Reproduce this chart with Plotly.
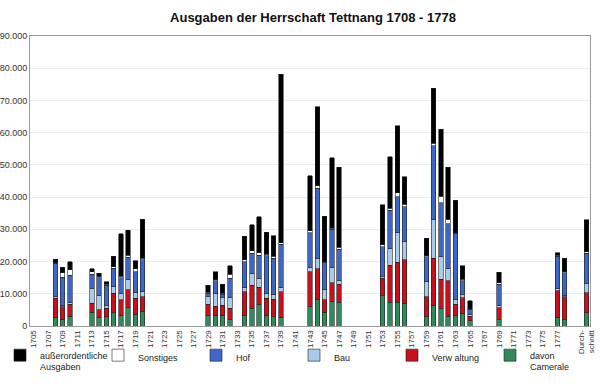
import plotly.graph_objects as go

# Categories: years 1705..1780 plus the average column
years = list(range(1705, 1781))
avg_label = "Durch-<br>schnitt"
categories = [str(y) for y in years] + [avg_label]

# Years with data (values in thousand Gulden)
data_years = ["1708", "1709", "1710", "1713", "1714", "1715", "1716", "1717", "1718", "1719", "1720",
              "1729", "1730", "1731", "1732", "1734", "1735", "1736", "1737", "1738", "1739",
              "1743", "1744", "1745", "1746", "1747", "1753", "1754", "1755", "1756",
              "1759", "1760", "1761", "1762", "1763", "1764", "1765", "1769", "1777", "1778", avg_label]

camerale = [2.6, 1.9, 3.1, 4.2, 2.6, 2.9, 4.1, 3.4, 5.8, 3.7, 4.4,
            3.4, 3.4, 3.4, 1.9, 3.2, 5.5, 6.7, 3.4, 2.9, 2.7,
            6.0, 8.1, 4.2, 7.5, 7.3, 9.4, 7.3, 7.3, 7.0,
            2.9, 6.5, 5.5, 3.1, 3.4, 3.9, 1.7, 1.9, 2.7, 1.9, 4.1]
verwaltung = [6.0, 4.1, 3.7, 2.8, 2.4, 2.6, 6.0, 4.8, 5.4, 4.9, 4.7,
              3.3, 2.8, 3.1, 3.6, 7.5, 7.1, 5.3, 5.2, 5.4, 8.0,
              10.9, 9.6, 3.9, 6.0, 5.6, 5.4, 11.6, 12.5, 13.5,
              6.2, 14.5, 9.0, 10.9, 3.4, 4.9, 1.4, 3.8, 8.2, 7.2, 6.2]
bau = [0.5, 0.3, 0.4, 4.7, 4.6, 0.8, 2.1, 1.8, 3.3, 1.7, 1.6,
       2.5, 3.9, 2.4, 3.3, 1.3, 3.7, 2.8, 1.5, 1.5, 1.2,
       1.3, 3.3, 3.1, 4.7, 1.2, 0.5, 5.2, 9.2, 5.7,
       4.7, 12.1, 7.0, 3.9, 1.3, 0.9, 0.4, 0.8, 0.6, 0.5, 2.9]
hof = [10.3, 8.8, 8.6, 4.3, 5.7, 6.4, 5.7, 5.0, 6.8, 6.6, 9.8,
       1.0, 4.0, 1.0, 6.0, 8.0, 6.3, 7.2, 11.7, 11.2, 13.4,
       10.8, 21.7, 8.6, 11.8, 9.7, 9.3, 11.9, 11.1, 10.8,
       7.7, 22.9, 16.8, 13.8, 20.7, 4.3, 1.7, 6.5, 10.2, 7.0, 9.4]
sonstiges = [0.3, 1.4, 1.6, 0.8, 0.2, 0.2, 0.5, 0.5, 0.6, 0.8, 0.5,
             0.3, 0.2, 0.2, 1.2, 0.5, 0.8, 0.8, 0.5, 0.7, 0.6,
             0.5, 0.8, 0.2, 0.3, 0.6, 0.6, 0.5, 1.3, 0.8,
             0.3, 0.7, 2.0, 1.4, 0.2, 0.5, 0.2, 0.5, 0.3, 0.2, 0.5]
ausserord = [1.0, 1.7, 2.6, 0.9, 0.8, 0.9, 3.3, 13.2, 7.8, 2.6, 12.2,
             2.1, 2.6, 2.9, 2.7, 7.4, 8.0, 11.1, 6.8, 6.3, 52.3,
             17.2, 24.6, 14.1, 21.9, 24.8, 12.4, 16.1, 20.8, 8.5,
             5.4, 17.1, 20.8, 16.1, 10.1, 4.2, 2.5, 3.2, 0.8, 4.2, 9.8]

tick_years = [str(y) for y in range(1705, 1778, 2)] + [avg_label]

series = [
    ("davon<br>Camerale", camerale, "#2f8a5c"),
    ("Verw altung", verwaltung, "#c8101c"),
    ("Bau", bau, "#a9cbea"),
    ("Hof", hof, "#3c66c8"),
    ("Sonstiges", sonstiges, "#ffffff"),
    ("außerordentliche<br>Ausgaben", ausserord, "#000000"),
]

fig = go.Figure()
for name, vals, color in series:
    fig.add_trace(go.Bar(
        x=data_years, y=[v * 1000 for v in vals], name=name,
        marker=dict(color=color, line=dict(color="#222222", width=0.6)),
    ))

fig.update_layout(
    width=600, height=391,
    barmode="stack", bargap=0.38,
    separators=",.",
    paper_bgcolor="white", plot_bgcolor="white",
    margin=dict(l=30, r=10, t=36, b=65, autoexpand=False),
    font=dict(family="Liberation Sans, Arial, sans-serif", size=9, color="#222"),
    title=dict(text="<b>Ausgaben der Herrschaft Tettnang 1708 - 1778</b>",
               x=313 / 600, xanchor="center", y=1 - 17 / 391, yanchor="middle",
               font=dict(size=13, color="#111")),
    legend=dict(orientation="h", x=-30 / 560, xanchor="left", y=-0.058, yanchor="top",
                traceorder="reversed", entrywidth=53, entrywidthmode="pixels",
                itemwidth=30, font=dict(size=9, color="#222"), valign="top",
                bgcolor="rgba(0,0,0,0)"),
    showlegend=True,
)
fig.update_xaxes(
    type="category", categoryorder="array", categoryarray=categories,
    range=[-0.5, len(categories) - 0.5],
    tickmode="array", tickvals=tick_years, ticktext=tick_years,
    tickangle=-90, tickfont=dict(size=8, color="#333"),
    showline=True, linecolor="#999", linewidth=1, mirror=True,
    showgrid=False, ticks="", automargin=False,
)
fig.update_yaxes(
    range=[0, 90000], dtick=10000, tickformat=",d",
    tickfont=dict(size=9, color="#333"),
    showgrid=True, gridcolor="#ececec", gridwidth=1,
    showline=True, linecolor="#999", linewidth=1, mirror=True,
    zeroline=False, ticks="", automargin=False,
)

fig.write_html("out.html", config={"displayModeBar": False},
               post_script="document.body.style.margin='0';document.body.style.overflow='hidden';")
